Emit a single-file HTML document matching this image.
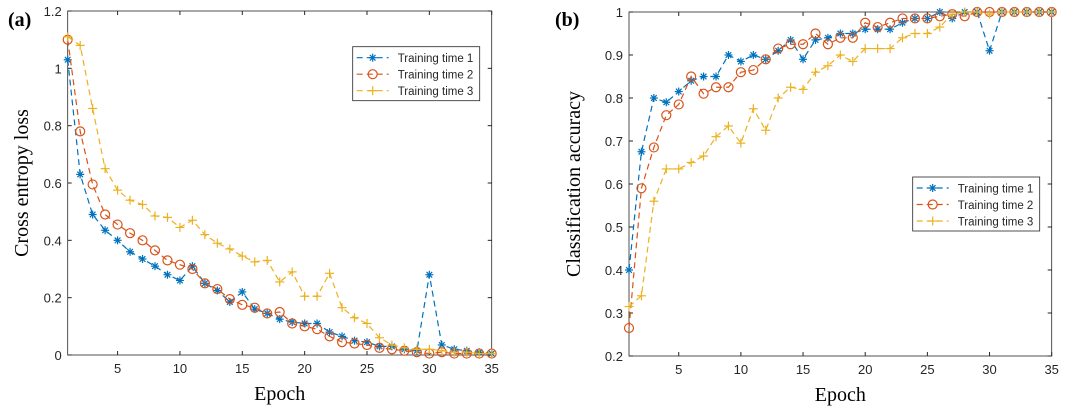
<!DOCTYPE html>
<html><head><meta charset="utf-8"><style>
body{margin:0;background:#fff}
svg{display:block;font-family:"Liberation Sans",sans-serif}
.tick{font-size:13px;fill:#262626}
.serif{font-family:"Liberation Serif",serif}
</style></head><body>
<svg id="fig" width="1080" height="408" viewBox="0 0 1080 408" xmlns="http://www.w3.org/2000/svg"></svg>
<script>
const epochs = Array.from({length:35},(_,i)=>i+1);
const lossT1 = [1.03,0.63,0.49,0.435,0.40,0.36,0.335,0.31,0.28,0.26,0.31,0.25,0.225,0.185,0.22,0.16,0.145,0.125,0.115,0.11,0.11,0.08,0.065,0.05,0.045,0.03,0.03,0.02,0.015,0.28,0.035,0.02,0.015,0.01,0.005];
const lossT2 = [1.10,0.78,0.595,0.49,0.455,0.425,0.40,0.365,0.33,0.315,0.30,0.25,0.23,0.195,0.175,0.165,0.145,0.15,0.11,0.10,0.09,0.065,0.045,0.04,0.035,0.025,0.02,0.015,0.01,0.005,0.01,0.005,0.005,0.005,0.005];
const lossT3 = [1.11,1.08,0.86,0.65,0.575,0.54,0.525,0.485,0.48,0.445,0.47,0.42,0.39,0.37,0.345,0.325,0.33,0.255,0.29,0.205,0.205,0.285,0.165,0.13,0.11,0.06,0.035,0.025,0.02,0.02,0.015,0.01,0.01,0.005,0.005];
const accT1 = [0.40,0.675,0.80,0.79,0.815,0.84,0.85,0.85,0.90,0.885,0.90,0.89,0.91,0.935,0.89,0.935,0.94,0.95,0.95,0.96,0.96,0.96,0.975,0.985,0.985,1.0,0.985,1.0,1.0,0.91,1,1,1,1,1];
const accT2 = [0.265,0.59,0.685,0.76,0.785,0.85,0.81,0.825,0.825,0.86,0.865,0.89,0.915,0.925,0.925,0.95,0.925,0.94,0.94,0.975,0.965,0.975,0.985,0.985,0.985,0.99,0.995,0.99,1,1,1,1,1,1,1];
const accT3 = [0.315,0.34,0.56,0.635,0.635,0.65,0.665,0.71,0.735,0.695,0.775,0.725,0.80,0.825,0.82,0.86,0.875,0.90,0.885,0.915,0.915,0.915,0.94,0.95,0.95,0.965,0.995,1,1,0.995,1,1,1,1,1];
const xTicks = [5,10,15,20,25,30,35];
const lossTicks = [0,0.2,0.4,0.6,0.8,1,1.2];
const accTicks = [0.2,0.3,0.4,0.5,0.6,0.7,0.8,0.9,1];
const seriesNames = ["Training time 1","Training time 2","Training time 3"];

const NS="http://www.w3.org/2000/svg";
const svg=document.getElementById('fig');
const colors=["#0072BD","#D95319","#EDB120"];
function el(tag,attrs,parent,text){const e=document.createElementNS(NS,tag);for(const k in attrs)e.setAttribute(k,attrs[k]);if(text!==undefined)e.textContent=text;(parent||svg).appendChild(e);return e;}
function marker(g,kind,x,y,c){
  if(kind===0){for(let a=0;a<4;a++){const an=a*Math.PI/4;el('line',{x1:x-4*Math.cos(an),y1:y-4*Math.sin(an),x2:x+4*Math.cos(an),y2:y+4*Math.sin(an),stroke:c,'stroke-width':1.2},g);}}
  else if(kind===1){el('circle',{cx:x,cy:y,r:4.5,fill:'none',stroke:c,'stroke-width':1.2},g);}
  else {el('line',{x1:x-4.5,y1:y,x2:x+4.5,y2:y,stroke:c,'stroke-width':1.2},g);el('line',{x1:x,y1:y-4.5,x2:x,y2:y+4.5,stroke:c,'stroke-width':1.2},g);}
}
function chart(o){
  const g=el('g',{});
  
  
  const X=v=>o.x0+(v-1)/(34)*(o.x1-o.x0);
  const Y=v=>o.y1-(v-o.ymin)/(o.ymax-o.ymin)*(o.y1-o.y0);
  el('rect',{x:o.x0,y:o.y0,width:o.x1-o.x0,height:o.y1-o.y0,fill:'#fff',stroke:'#262626','stroke-width':0.8},g);
  xTicks.forEach(t=>{const x=X(t);el('line',{x1:x,y1:o.y1,x2:x,y2:o.y1-4,stroke:'#262626'},g);el('line',{x1:x,y1:o.y0,x2:x,y2:o.y0+4,stroke:'#262626'},g);
    const tx=el('text',{x:x,y:o.y1+18,'text-anchor':'middle',class:'tick'},g,t);});
  o.yticks.forEach(t=>{const y=Y(t);el('line',{x1:o.x0,y1:y,x2:o.x0+4,y2:y,stroke:'#262626'},g);el('line',{x1:o.x1,y1:y,x2:o.x1-4,y2:y,stroke:'#262626'},g);
    const tx=el('text',{x:o.x0-6,y:y+5,'text-anchor':'end',class:'tick'},g,String(t));});
  o.series.forEach((s,i)=>{
    const sg=el('g',{},g);
    
    
    el('polyline',{points:s.map((v,j)=>X(epochs[j])+','+Y(v)).join(' '),fill:'none',stroke:colors[i],'stroke-width':1.2,'stroke-dasharray':'6,4'},sg);
    s.forEach((v,j)=>marker(sg,i,X(epochs[j]),Y(v),colors[i]));
  });
  const xl=el('text',{x:(o.x0+o.x1)/2,y:o.y1+45,'text-anchor':'middle',class:'serif','font-size':20,fill:'#000'},g,'Epoch');
  
  const yl=el('text',{x:0,y:0,transform:`translate(${o.ylx},${(o.y0+o.y1)/2}) rotate(-90)`,'text-anchor':'middle',class:'serif','font-size':20,fill:'#000'},g,o.ytitle);
  
  const pl=el('text',{x:o.px,y:26,class:'serif','font-size':20,'font-weight':'bold',fill:'#000'},g,o.panel);
  
  const lg=el('g',{},g);
  
  
  el('rect',{x:o.lx,y:o.ly,width:127,height:54,fill:'#fff',stroke:'#262626','stroke-width':0.8},lg);
  seriesNames.forEach((n,i)=>{const y=o.ly+11+i*16.5;
    const e=el('g',{},lg);
    
    
    el('line',{x1:o.lx+4,y1:y,x2:o.lx+36,y2:y,stroke:colors[i],'stroke-width':1.2,'stroke-dasharray':'6,4'},e);
    marker(e,i,o.lx+20,y,colors[i]);
    el('text',{x:o.lx+45,y:y+4.5,'font-size':11.5,fill:'#262626'},e,n);
  });
}
chart({name:'loss-chart',x0:67.7,x1:491.7,y0:11,y1:355,ymin:0,ymax:1.2,yticks:lossTicks,series:[lossT1,lossT2,lossT3],ytitle:'Cross entropy loss',ylx:28,px:8,panel:'(a)',lx:352.7,ly:46.7});
chart({name:'accuracy-chart',x0:629,x1:1051.7,y0:12,y1:356,ymin:0.2,ymax:1,yticks:accTicks,series:[accT1,accT2,accT3],ytitle:'Classification accuracy',ylx:580,px:555,panel:'(b)',lx:912.7,ly:177});
</script>
</body></html>
